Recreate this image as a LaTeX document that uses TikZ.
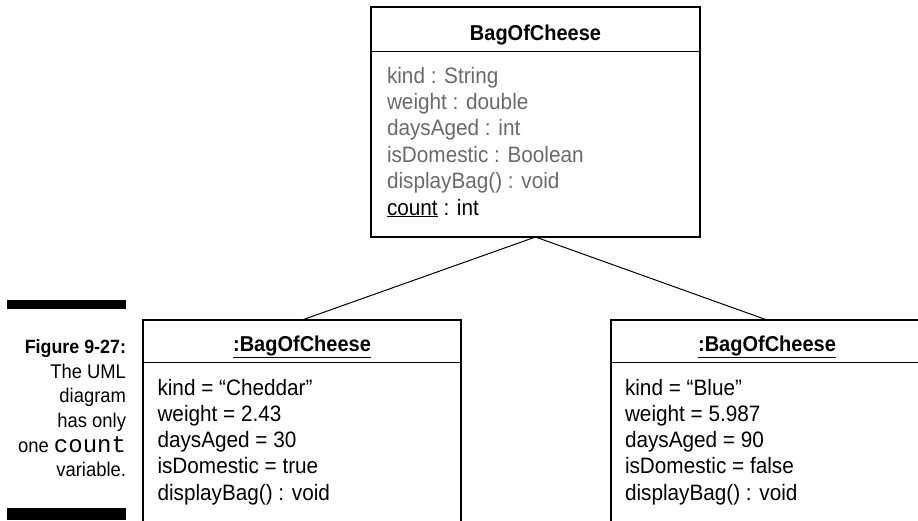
\documentclass[tikz,border=0pt]{standalone}
\usepackage{fontspec}
\setmainfont{Liberation Sans}
\setmonofont{Liberation Mono}
\newfontfamily\umlfont[FakeStretch=0.93]{Liberation Sans}

\definecolor{attrgray}{HTML}{6A6A6A}

\begin{document}
\begin{tikzpicture}[
    x=1pt, y=-1pt,
    every node/.style={inner sep=0pt, outer sep=0pt},
    umlbox/.style={rectangle, draw=black, fill=white, line width=1.6pt},
    link/.style={line width=1pt},
    sepline/.style={line width=0.9pt},
    boxtitle/.style={anchor=base, font=\umlfont\bfseries\fontsize{21.5}{24}\selectfont},
    attr/.style={anchor=base west, font=\umlfont\fontsize{22.3}{26}\selectfont},
    captext/.style={anchor=base east, font=\umlfont\fontsize{19.8}{24}\selectfont},
]

% === Page frame ===
\useasboundingbox (0,0) rectangle (918,520);
\clip (0,0) rectangle (918,520);

% === Layout values ===
\def\lineH{26.4}    % attribute line spacing
\def\capH{24.7}     % caption line spacing

% === Class box ===
\node[umlbox, minimum width=329pt, minimum height=230pt] (cls) at (535.5,122) {};
\coordinate (clsSep) at (0,51);
\draw[sepline] (cls.west |- clsSep) -- (cls.east |- clsSep);
\node[boxtitle] (clsName) at (535.5,40) {BagOfCheese};
\foreach \txt [count=\i from 0] in {kind : String, weight : double, daysAged : int,
        isDomestic : Boolean, displayBag() : void} {
    \node[attr, text=attrgray] (clsAttr\i) at (387,{83+\i*\lineH}) {\txt};
}
\node[attr] (clsCount) at (387,{83+5*\lineH}) {\underline{count} : int};

% === Object boxes (run off the page) ===
\node[umlbox, minimum width=318pt, minimum height=220pt] (objA) at (302,430) {};
\node[umlbox, minimum width=312pt, minimum height=220pt] (objB) at (767,430) {};
\coordinate (objSep) at (0,362);
\draw[sepline] (objA.west |- objSep) -- (objA.east |- objSep);
\draw[sepline] (objB.west |- objSep) -- (objB.east |- objSep);

\node[boxtitle] (objAName) at (302,351) {\underline{:BagOfCheese}};
\node[boxtitle] (objBName) at (767,351) {\underline{:BagOfCheese}};

% Cheddar instance
\foreach \txt [count=\i from 0] in {kind = “Cheddar”, weight = 2.43, daysAged = 30,
        isDomestic = true, displayBag() : void} {
    \node[attr] (objAAttr\i) at (157.5,{395+\i*26.3}) {\txt};
}
% Blue instance
\foreach \txt [count=\i from 0] in {kind = “Blue”, weight = 5.987, daysAged = 90,
        isDomestic = false, displayBag() : void} {
    \node[attr] (objBAttr\i) at (625,{395+\i*26.3}) {\txt};
}

% === Instance links ===
\draw[link] (cls.south) -- (objA.north);
\draw[link] (cls.south) -- (objB.north);

% === Figure caption ===
\fill (7,300) rectangle (126,309);
\fill (7,508) rectangle (126,520);
\node[captext, font=\umlfont\bfseries\fontsize{19.2}{24}\selectfont] (capNum) at (126,353.3) {Figure 9-27:};
\node[captext] (capL1) at (126,{353.3+1*\capH}) {The UML};
\node[captext] (capL2) at (126,{353.3+2*\capH}) {diagram};
\node[captext] (capL3) at (126,{353.3+3*\capH}) {has only};
\node[captext] (capL4) at (126,{353.3+4*\capH}) {one {\ttfamily\fontsize{24}{24}\selectfont count}};
\node[captext] (capL5) at (126,{353.3+5*\capH}) {variable.};

\end{tikzpicture}
\end{document}
